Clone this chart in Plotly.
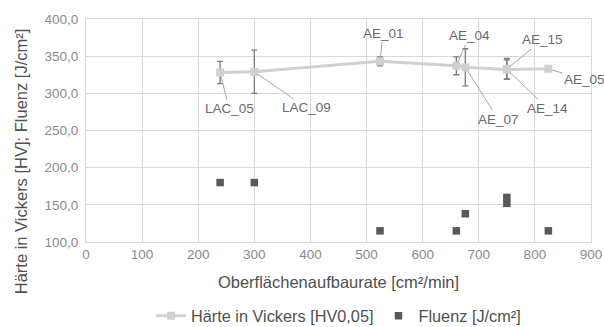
import plotly.graph_objects as go

# Data
labels = ["LAC_05", "LAC_09", "AE_01", "AE_04", "AE_07", "AE_15", "AE_14", "AE_05"]
rate = [239, 300, 524, 660, 676, 750, 750, 824]
haerte = [328, 329, 343, 337, 335, 333, 332, 333]
haerte_err = [15, 29, 6, 12, 25, 14, 13, 0]
fluenz = [180, 180, 115, 115, 138, 160, 152, 115]

# label offsets (pixels) for annotations
label_ax = [9, 52, 3, 13, 33, 36, 41, 36]
label_ay = [36, 36, -28, -30, 52, -29, 39, 11]

font_family = "Liberation Sans, Arial, sans-serif"
tick_col = "#8a8a8a"
title_col = "#505050"

fig = go.Figure()
fig.add_trace(go.Scatter(
    x=rate, y=haerte, mode="lines+markers", name="Härte in Vickers [HV0,05]",
    line=dict(color="#d0d0d0", width=3),
    marker=dict(symbol="square", size=8, color="#d0d0d0"),
    error_y=dict(type="data", array=haerte_err, color="#7a7a7a", thickness=1.3, width=3),
))
fig.add_trace(go.Scatter(
    x=rate, y=fluenz, mode="markers", name="Fluenz [J/cm²]",
    marker=dict(symbol="square", size=7.5, color="#595959"),
))

for lab, x, y, ax, ay in zip(labels, rate, haerte, label_ax, label_ay):
    fig.add_annotation(x=x, y=y, text=lab, showarrow=True, arrowhead=0, arrowwidth=1,
                       arrowcolor="#a6a6a6", ax=ax, ay=ay, standoff=4,
                       font=dict(size=13.5, color="#6a6a6a", family=font_family))

# y-axis title as rotated text placed like the reference
fig.add_annotation(xref="paper", yref="paper", x=-0.1287, y=0.362, xanchor="center", yanchor="middle",
                   text="Härte in Vickers [HV]; Fluenz [J/cm²]", textangle=-90, showarrow=False,
                   font=dict(size=16.5, color=title_col, family=font_family))

fig.update_layout(
    width=604, height=327,
    margin=dict(l=86, r=13, t=19, b=85, autoexpand=False),
    paper_bgcolor="white", plot_bgcolor="white",
    separators=", ",
    font=dict(family=font_family, size=13.5, color=tick_col),
    showlegend=True,
    legend=dict(orientation="h", x=0.5, xanchor="center", y=-0.333, yanchor="middle",
                font=dict(size=16.3, color=title_col), itemwidth=30, tracegroupgap=0),
)
fig.update_xaxes(range=[0, 900], dtick=100, showgrid=True, gridcolor="#d9d9d9",
                 zeroline=False, showline=True, linecolor="#d9d9d9", mirror=True,
                 ticks="", tickfont=dict(size=13.5, color=tick_col), automargin=False,
                 title=dict(text="Oberflächenaufbaurate [cm²/min]", font=dict(size=16.5, color=title_col), standoff=15))
fig.update_yaxes(range=[100, 400], dtick=50, tickformat=".1f", showgrid=True, gridcolor="#d9d9d9",
                 zeroline=False, showline=True, linecolor="#d9d9d9", mirror=True,
                 ticks="", tickfont=dict(size=13.5, color=tick_col), automargin=False, ticklabelstandoff=4)

fig.write_html("out.html", config={"displayModeBar": False},
               post_script="document.body.style.margin='0';document.body.style.overflow='hidden';")
